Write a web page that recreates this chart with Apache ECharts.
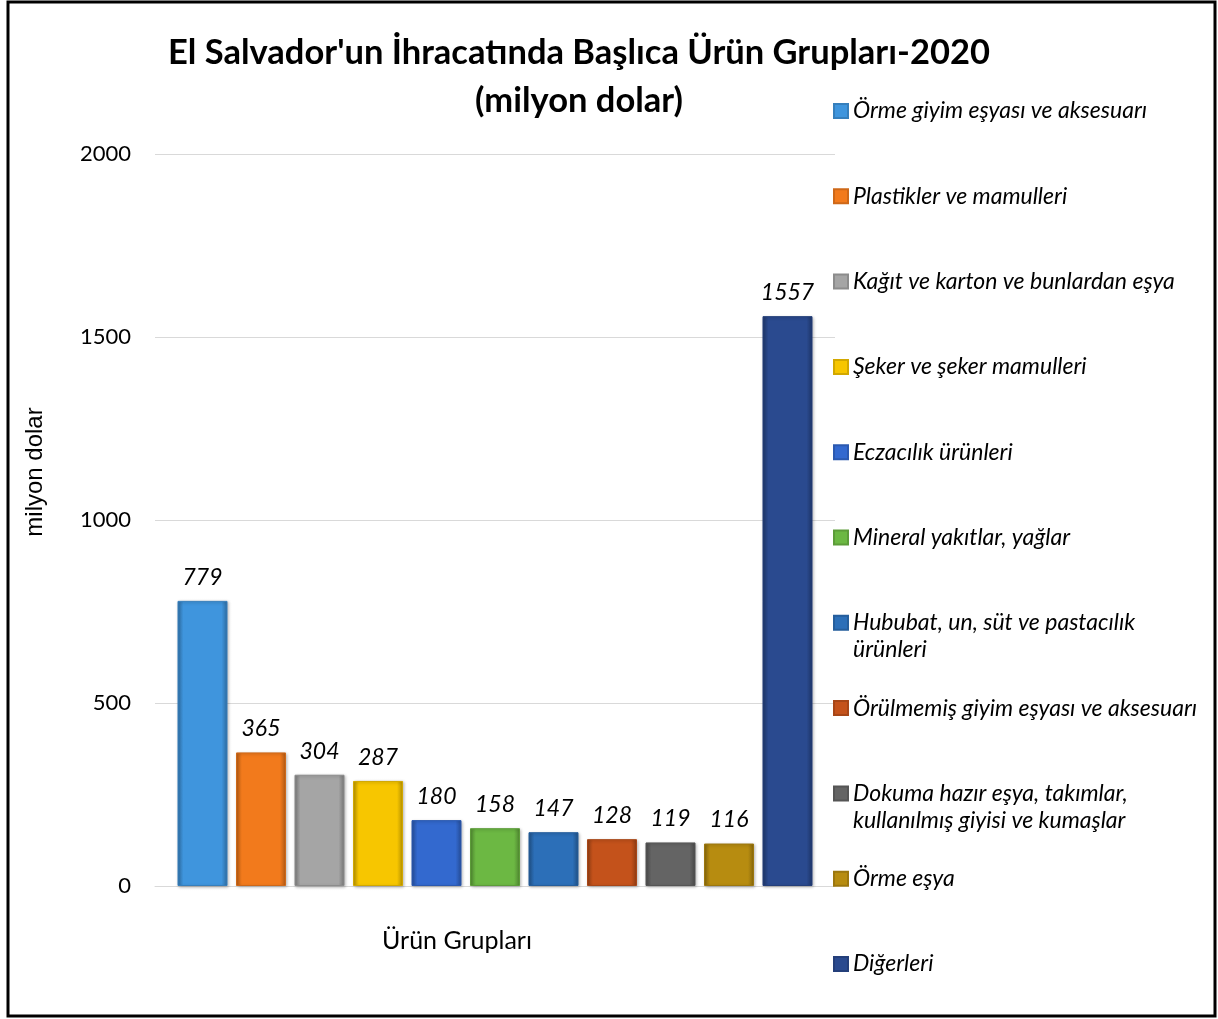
<!DOCTYPE html>
<html>
<head>
<meta charset="utf-8">
<script src="https://cdn.jsdelivr.net/npm/echarts@6/dist/echarts.min.js"></script>
<style>
  html, body { margin: 0; padding: 0; background: #fff; }
  #main { width: 1218px; height: 1019px; }
</style>
</head>
<body>
<div id="main"></div>
<script>
// veriler
var categories = ['Ürün Grupları'];
var productNames = [
  'Örme giyim eşyası ve aksesuarı',
  'Plastikler ve mamulleri',
  'Kağıt ve karton ve bunlardan eşya',
  'Şeker ve şeker mamulleri',
  'Eczacılık ürünleri',
  'Mineral yakıtlar, yağlar',
  'Hububat, un, süt ve pastacılık\nürünleri',
  'Örülmemiş giyim eşyası ve aksesuarı',
  'Dokuma hazır eşya, takımlar,\nkullanılmış giyisi ve kumaşlar',
  'Örme eşya',
  'Diğerleri'
];
var exportValues = [779, 365, 304, 287, 180, 158, 147, 128, 119, 116, 1557];
var barColors = ['#3f95dd', '#f27a1c', '#a5a5a5', '#f7c600', '#3369cf', '#6cb843',
                 '#2c6fb8', '#c4521b', '#646464', '#b78c10', '#2a4a8f'];

var chart = echarts.init(document.getElementById('main'));

// renk koyulaştır
function shade(hex, f) {
  var n = parseInt(hex.slice(1), 16);
  var r = Math.round(((n >> 16) & 255) * f);
  var g = Math.round(((n >> 8) & 255) * f);
  var b = Math.round((n & 255) * f);
  return 'rgb(' + Math.min(r, 255) + ',' + Math.min(g, 255) + ',' + Math.min(b, 255) + ')';
}

function bevel(c) {
  return new echarts.graphic.LinearGradient(0, 0, 1, 0, [
    { offset: 0, color: shade(c, 0.75) },
    { offset: 0.12, color: c },
    { offset: 0.88, color: c },
    { offset: 1, color: shade(c, 0.72) }
  ]);
}

var series = productNames.map(function (name, i) {
  return {
    name: name,
    type: 'bar',
    barWidth: 50,
    barGap: '17%',
    data: [exportValues[i]],
    itemStyle: {
      color: bevel(barColors[i]),
      borderColor: shade(barColors[i], 0.85),
      borderWidth: 1,
      shadowColor: 'rgba(0,0,0,0.25)',
      shadowBlur: 3,
      shadowOffsetX: 1,
      shadowOffsetY: 1
    },
    label: {
      show: true,
      position: 'top',
      distance: 12,
      color: '#000',
      fontFamily: 'Lato',
      fontStyle: 'italic',
      fontSize: 23
    }
  };
});

// her lejant kalemi ayrı konumlanır; ikon ilk satırla hizalı
var legendLineH = 27;
var legends = productNames.map(function (name, i) {
  var lines = name.indexOf('\n') >= 0 ? 3 : 1;
  return {
    data: [name],
    orient: 'vertical',
    left: 833,
    top: 111 + i * 85.3 - lines * legendLineH / 2,
    itemWidth: 14,
    itemHeight: 14,
    icon: 'rect',
    itemGap: 0,
    padding: 0,
    selectedMode: false,
    formatter: function (n) {
      return n.indexOf('\n') >= 0 ? '\n' + n : n;
    },
    textStyle: {
      color: '#000',
      fontFamily: 'Lato',
      fontStyle: 'italic',
      fontSize: 23,
      lineHeight: legendLineH
    }
  };
});

var option = {
  backgroundColor: '#fff',
  animation: false,
  title: {
    text: "El Salvador'un İhracatında Başlıca Ürün Grupları-2020\n(milyon dolar)",
    left: 574,
    top: 24,
    textAlign: 'center',
    textStyle: {
      fontFamily: 'Lato',
      fontWeight: 'bold',
      fontSize: 34.5,
      lineHeight: 48,
      color: '#000'
    }
  },
  legend: legends,
  grid: { left: 155, right: 383, top: 154, bottom: 133 },
  xAxis: {
    type: 'category',
    data: categories,
    axisLine: { show: true, lineStyle: { color: '#d9d9d9', width: 1 } },
    axisTick: { show: false },
    axisLabel: {
      margin: 42,
      padding: [0, 76, 0, 0],
      fontFamily: 'Lato',
      fontSize: 25,
      color: '#000'
    }
  },
  yAxis: {
    type: 'value',
    min: 0,
    max: 2000,
    interval: 500,
    name: 'milyon dolar',
    nameLocation: 'middle',
    nameRotate: 90,
    nameGap: 108,
    nameTextStyle: {
      fontFamily: 'Liberation Sans',
      fontSize: 24,
      color: '#000',
      padding: [0, 0, 0, 96]
    },
    axisLine: { show: false },
    axisTick: { show: false },
    splitLine: { lineStyle: { color: '#d9d9d9', width: 1 } },
    axisLabel: {
      margin: 24,
      fontFamily: 'Lato',
      fontSize: 22,
      color: '#000',
      formatter: function (v) { return String(v); }
    }
  },
  graphic: [{
    type: 'rect',
    shape: { x: 8, y: 2, width: 1207, height: 1014 },
    style: { fill: 'none', stroke: '#000', lineWidth: 3 },
    silent: true
  }],
  series: series
};

chart.setOption(option);
</script>
</body>
</html>
